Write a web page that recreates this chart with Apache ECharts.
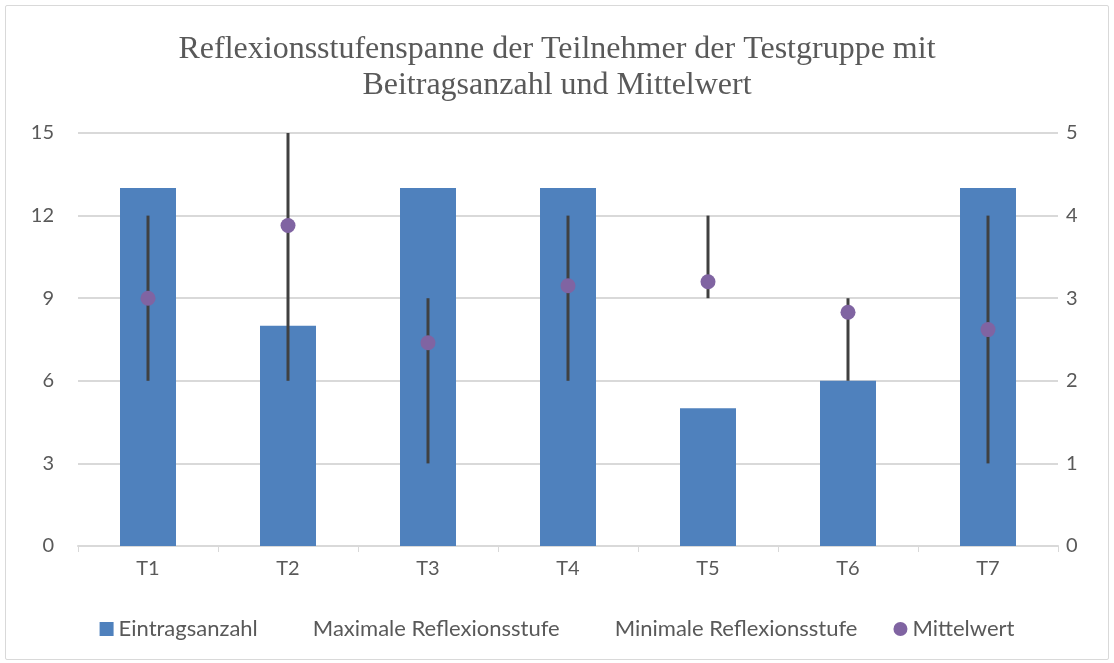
<!DOCTYPE html>
<html>
<head>
<meta charset="utf-8">
<script src="https://cdn.jsdelivr.net/npm/echarts@6/dist/echarts.min.js"></script>
<style>
  html, body { margin: 0; padding: 0; background: #fff; }
  #frame {
    position: absolute; left: 5px; top: 5px; width: 1102px; height: 653px;
    border: 1px solid #d9d9d9; border-radius: 2px;
  }
  #chart { position: absolute; left: 0; top: 0; width: 1114px; height: 663px; }
</style>
</head>
<body>
<div id="frame"></div>
<div id="chart"></div>
<script>
const categories = ["T1", "T2", "T3", "T4", "T5", "T6", "T7"]
const eintragsanzahl = [13, 8, 13, 13, 5, 6, 13]
const maxStufe = [4, 5, 3, 4, 4, 3, 4]
const minStufe = [2, 2, 1, 2, 3, 2, 1]
const mittelwert = [3.0, 3.88, 2.46, 3.15, 3.2, 2.83, 2.62]
const leftTicks = [0, 3, 6, 9, 12, 15]
const rightTicks = [0, 1, 2, 3, 4, 5]

const textColor = "#595959"
const gridColor = "#d9d9d9"
const sansFont = "Lato, 'Open Sans', sans-serif"

const chart = echarts.init(document.getElementById("chart"))

// Spanne als Linie von max bis min je Teilnehmer
const rangeData = categories.map((c, i) => [i, maxStufe[i], minStufe[i]])

const option = {
  animation: false,
  title: {
    text: "Reflexionsstufenspanne der Teilnehmer der Testgruppe mit\nBeitragsanzahl und Mittelwert",
    left: "center",
    top: 27,
    textStyle: {
      fontFamily: "'Liberation Serif', 'DejaVu Serif', serif",
      fontWeight: "normal",
      fontSize: 32,
      lineHeight: 36,
      color: textColor
    }
  },
  legend: {
    bottom: 18,
    left: "center",
    itemWidth: 14,
    itemHeight: 14,
    itemGap: 36,
    textStyle: { fontFamily: sansFont, fontSize: 22, color: textColor },
    data: [
      { name: "Eintragsanzahl", icon: "rect" },
      { name: "Maximale Reflexionsstufe", icon: "rect", itemStyle: { opacity: 0 } },
      { name: "Minimale Reflexionsstufe", icon: "rect", itemStyle: { opacity: 0 } },
      { name: "Mittelwert", icon: "circle" }
    ]
  },
  grid: { left: 78, right: 56, top: 133, bottom: 117 },
  xAxis: {
    type: "category",
    data: categories,
    axisLine: { lineStyle: { color: gridColor, width: 2 } },
    axisTick: { show: true, length: 6, lineStyle: { color: gridColor, width: 1 } },
    axisLabel: { fontFamily: sansFont, fontSize: 20, color: textColor, margin: 13 }
  },
  yAxis: [
    {
      type: "value",
      min: 0, max: 15, interval: 3,
      axisLine: { show: false },
      axisTick: { show: false },
      splitLine: { lineStyle: { color: gridColor, width: 2 } },
      axisLabel: {
        fontFamily: sansFont, fontSize: 20, color: textColor, margin: 24,
        formatter: v => leftTicks.includes(v) ? String(v) : ""
      }
    },
    {
      type: "value",
      min: 0, max: 5, interval: 1,
      axisLine: { show: false },
      axisTick: { show: false },
      splitLine: { show: false },
      axisLabel: {
        fontFamily: sansFont, fontSize: 20, color: textColor, margin: 8,
        formatter: v => rightTicks.includes(v) ? String(v) : ""
      }
    }
  ],
  series: [
    {
      name: "Eintragsanzahl",
      type: "bar",
      data: eintragsanzahl,
      barWidth: "40%",
      itemStyle: { color: "#4f81bd" },
      z: 1
    },
    {
      name: "Maximale Reflexionsstufe",
      type: "line",
      yAxisIndex: 1,
      data: maxStufe,
      symbol: "none",
      lineStyle: { opacity: 0 },
      itemStyle: { color: "#ffffff" },
      silent: true
    },
    {
      name: "Minimale Reflexionsstufe",
      type: "line",
      yAxisIndex: 1,
      data: minStufe,
      symbol: "none",
      lineStyle: { opacity: 0 },
      itemStyle: { color: "#ffffff" },
      silent: true
    },
    {
      name: "Spanne",
      type: "custom",
      yAxisIndex: 1,
      data: rangeData,
      z: 3,
      renderItem: (params, api) => {
        const top = api.coord([api.value(0), api.value(1)])
        const bottom = api.coord([api.value(0), api.value(2)])
        return {
          type: "line",
          shape: { x1: top[0], y1: top[1], x2: bottom[0], y2: bottom[1] },
          style: { stroke: "#404040", lineWidth: 3 }
        }
      }
    },
    {
      name: "Mittelwert",
      type: "scatter",
      yAxisIndex: 1,
      data: mittelwert,
      symbol: "circle",
      symbolSize: 15,
      itemStyle: { color: "#8064a2", opacity: 1 },
      z: 4
    }
  ]
}

chart.setOption(option)
</script>
</body>
</html>
